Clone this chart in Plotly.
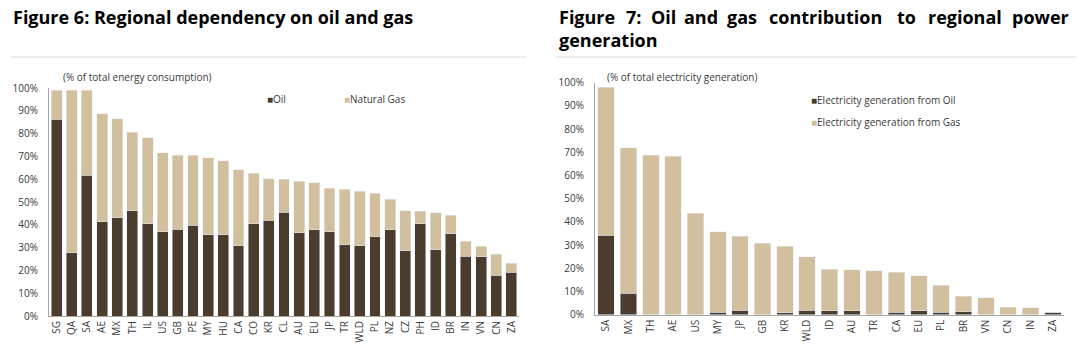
import plotly.graph_objects as go

# ---------------- Data ----------------
energy_regions = ["SG", "QA", "SA", "AE", "MX", "TH", "IL", "US", "GB", "PE", "MY", "HU", "CA", "CO", "KR",
                  "CL", "AU", "EU", "JP", "TR", "WLD", "PL", "NZ", "CZ", "PH", "ID", "BR", "IN", "VN", "CN", "ZA"]
energy_oil = [86.4, 27.7, 61.8, 41.4, 43.0, 46.2, 40.5, 37.0, 38.0, 39.7, 35.7, 35.7, 30.8, 40.5, 42.1,
              45.6, 36.6, 37.8, 36.9, 31.2, 30.9, 34.7, 37.8, 28.7, 40.5, 29.0, 36.0, 26.2, 25.9, 17.9, 19.1]
energy_gas = [12.7, 71.3, 37.2, 47.4, 43.6, 34.4, 37.6, 34.6, 32.4, 30.7, 33.7, 32.4, 33.3, 22.2, 18.0,
              14.3, 22.4, 20.7, 19.2, 24.5, 23.8, 19.1, 13.4, 17.4, 5.4, 16.2, 8.3, 6.6, 4.6, 9.2, 4.1]

power_regions = ["SA", "MX", "TH", "AE", "US", "MY", "JP", "GB", "KR", "WLD", "ID",
                 "AU", "TR", "CA", "EU", "PL", "BR", "VN", "CN", "IN", "ZA"]
power_oil = [34.3, 9.3, 0.0, 0.0, 0.0, 1.0, 2.0, 0.0, 0.9, 2.0, 1.7,
             1.6, 0.0, 1.0, 1.6, 1.0, 1.3, 0.0, 0.0, 0.0, 1.0]
power_gas = [63.7, 62.7, 68.7, 68.4, 43.7, 34.8, 31.8, 30.9, 28.6, 22.9, 18.0,
             17.8, 19.0, 17.2, 15.2, 11.8, 6.7, 7.3, 3.3, 2.9, 0.0]

y_ticks = [0, 10, 20, 30, 40, 50, 60, 70, 80, 90, 100]

# ---------------- Style ----------------
OIL = "#4b3c2e"
GAS = "#d1bf9e"
FONT = "Open Sans"
TXT = "#3a3a3a"
W, H = 1080, 352
TITLE_SIZE = 18

def px_x(p):
    return p / W

def px_y(p):
    return 1 - p / H

fig = go.Figure()

fig.add_trace(go.Bar(x=energy_regions, y=energy_oil, name="Oil", marker_color=OIL,
                     xaxis="x", yaxis="y", width=0.72, showlegend=False))
fig.add_trace(go.Bar(x=energy_regions, y=energy_gas, name="Natural Gas", marker_color=GAS,
                     xaxis="x", yaxis="y", width=0.72, showlegend=False))
fig.add_trace(go.Bar(x=power_regions, y=power_oil, name="Electricity generation from Oil", marker_color=OIL,
                     xaxis="x2", yaxis="y2", width=0.74, showlegend=False))
fig.add_trace(go.Bar(x=power_regions, y=power_gas, name="Electricity generation from Gas", marker_color=GAS,
                     xaxis="x2", yaxis="y2", width=0.74, showlegend=False))

axis_common = dict(showgrid=False, zeroline=False, showline=True, linecolor="#a6a6a6", linewidth=1,
                   ticks="", automargin=False, tickfont=dict(family=FONT, size=10, color=TXT))

fig.update_layout(
    width=W, height=H,
    margin=dict(l=0, r=0, t=0, b=0, autoexpand=False),
    paper_bgcolor="white", plot_bgcolor="white",
    barmode="stack",
    font=dict(family=FONT, color=TXT),
    xaxis=dict(domain=[px_x(49), px_x(519)], anchor="y", tickangle=-90, **axis_common),
    yaxis=dict(domain=[px_y(316), px_y(88)], anchor="x", range=[0, 100], tickvals=y_ticks,
               ticktext=[f"{v}%" for v in y_ticks], ticklabelstandoff=8, **axis_common),
    xaxis2=dict(domain=[px_x(595), px_x(1064)], anchor="y2", tickangle=-90, **axis_common),
    yaxis2=dict(domain=[px_y(314.7), px_y(82.7)], anchor="x2", range=[0, 100], tickvals=y_ticks,
                ticktext=[f"{v}%" for v in y_ticks], ticklabelstandoff=8, **axis_common),
)

annotations = []
# Left title
annotations.append(dict(text="<b>Figure 6: Regional dependency on oil and gas</b>", x=px_x(11), y=px_y(17),
                        xref="paper", yref="paper", xanchor="left", yanchor="middle", showarrow=False,
                        font=dict(family=FONT, size=TITLE_SIZE, color="#000000")))
# Right title (justified first line)
words = [("Figure", 557), ("7:", 624), ("Oil", 649), ("and", 682), ("gas", 725), ("contribution", 767),
         ("to", 895), ("regional", 926), ("power", 1010)]
for w, x0 in words:
    annotations.append(dict(text=f"<b>{w}</b>", x=px_x(x0), y=px_y(17), xref="paper", yref="paper",
                            xanchor="left", yanchor="middle", showarrow=False,
                            font=dict(family=FONT, size=TITLE_SIZE, color="#000000")))
annotations.append(dict(text="<b>generation</b>", x=px_x(557), y=px_y(40), xref="paper", yref="paper",
                        xanchor="left", yanchor="middle", showarrow=False,
                        font=dict(family=FONT, size=TITLE_SIZE, color="#000000")))
# Subtitles
annotations.append(dict(text="(% of total energy consumption)", x=px_x(61), y=px_y(77), xref="paper", yref="paper",
                        xanchor="left", yanchor="middle", showarrow=False, font=dict(family=FONT, size=10, color=TXT)))
annotations.append(dict(text="(% of total electricity generation)", x=px_x(605), y=px_y(77), xref="paper",
                        yref="paper", xanchor="left", yanchor="middle", showarrow=False,
                        font=dict(family=FONT, size=10, color=TXT)))
# Legends
def legend_item(label, color, x0, y0):
    return dict(text=f"<span style='color:{color}'>■</span>{label}", x=px_x(x0), y=px_y(y0), xref="paper",
                yref="paper", xanchor="left", yanchor="middle", showarrow=False,
                font=dict(family=FONT, size=10, color=TXT))

annotations.append(legend_item("Oil", OIL, 265, 99))
annotations.append(legend_item("Natural Gas", GAS, 342, 99))
annotations.append(legend_item("Electricity generation from Oil", OIL, 809, 100))
annotations.append(legend_item("Electricity generation from Gas", GAS, 809, 122))

fig.update_layout(annotations=annotations)

# Horizontal rules under titles
fig.update_layout(shapes=[
    dict(type="line", xref="paper", yref="paper", x0=px_x(11), x1=px_x(526), y0=px_y(57), y1=px_y(57),
         line=dict(color="#d9d9d9", width=1)),
    dict(type="line", xref="paper", yref="paper", x0=px_x(556), x1=px_x(1076), y0=px_y(57), y1=px_y(57),
         line=dict(color="#d9d9d9", width=1)),
])

fig.write_html("out.html")
